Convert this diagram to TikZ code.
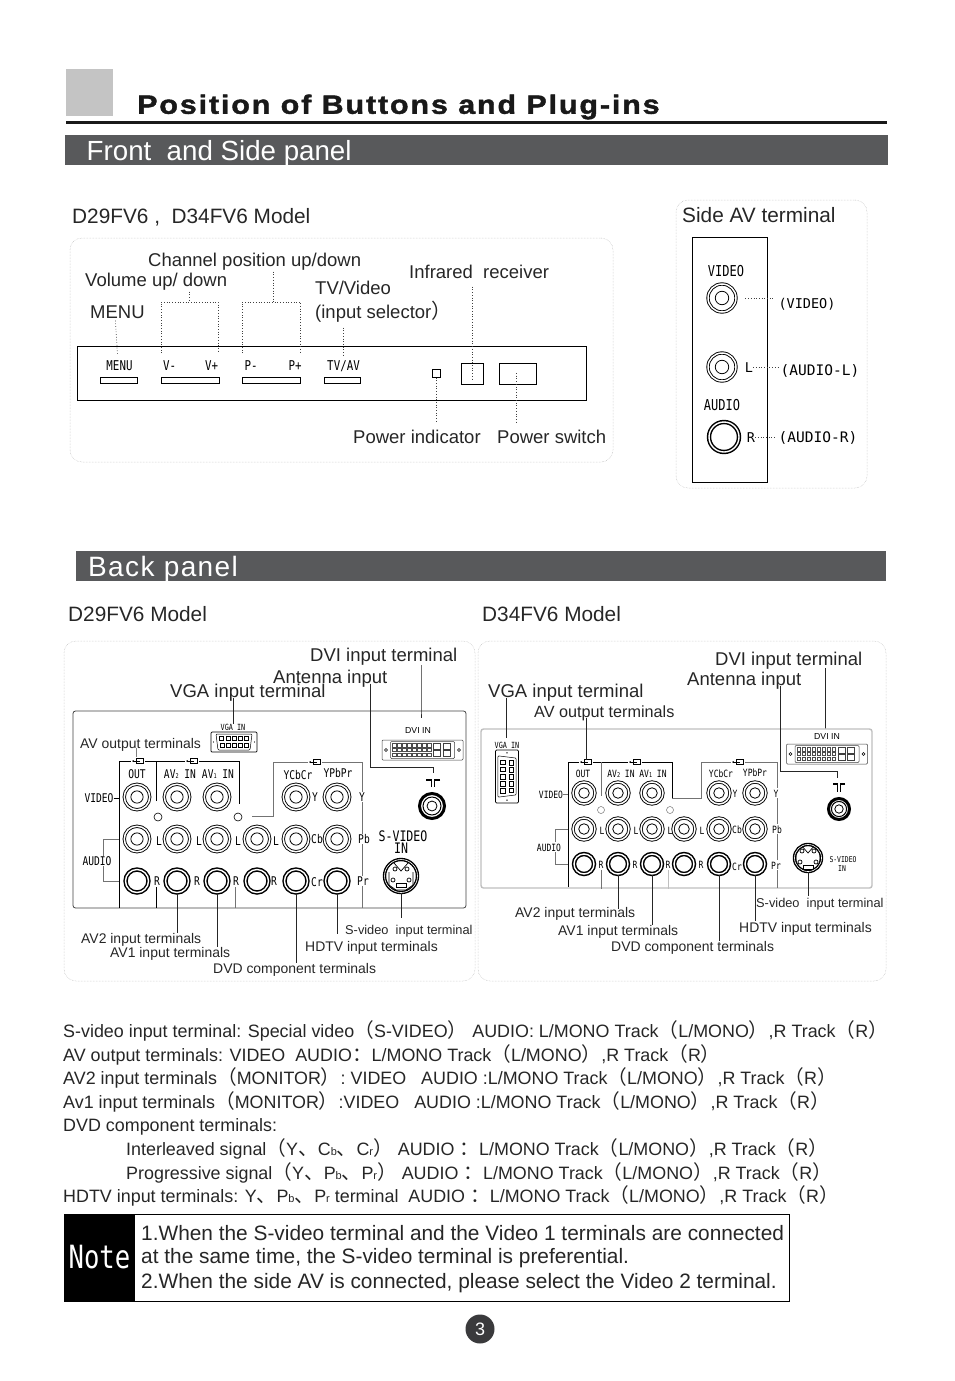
\documentclass[tikz,border=0pt]{standalone}
\usepackage{fontspec}
\setmainfont{Liberation Sans}
\newfontfamily\cjk[Scale=1.1]{Noto Sans CJK SC}
\newfontfamily\panelfont[FakeStretch=0.8]{DejaVu Sans Mono}
\newfontfamily\sidefont{DejaVu Sans Mono}
\newfontfamily\titlefont[LetterSpace=7,FakeStretch=1.15,FakeBold=1.5]{Liberation Sans Bold}
\newfontfamily\headfont[LetterSpace=5]{Liberation Sans}
\usepackage{tikz}
\usetikzlibrary{positioning,arrows.meta}
\definecolor{barcol}{HTML}{58595B}
\definecolor{boxcol}{HTML}{C4C4C4}
\definecolor{bulletcol}{HTML}{3A3A3C}
\newcommand{\zl}{{\cjk （}}
\newcommand{\zr}{{\cjk ）}}
\newcommand{\zd}{{\cjk 、}}
\newcommand{\zc}{{\cjk ：}}
\newcommand{\sml}[1]{{\fontsize{11}{11}\selectfont #1}}
\newcommand{\subn}[1]{{\fontsize{6.5}{6.5}\selectfont #1}}
\tikzset{
  vgaport/.pic={
    \draw[rounded corners=1pt,line width=.7pt] (-23,-10) rectangle (23,10);
    \draw[rounded corners=1pt,line width=.5pt] (-18,-8) -- (18,-8) -- (16,8) -- (-16,8) -- cycle;
    \foreach \i in {-2,...,2} {
      \draw[line width=.4pt] (\i*6.3-2,-6) rectangle +(4,4);
      \draw[line width=.4pt] (\i*6-2,1.5) rectangle +(4,4);
    }
    \fill (-20.5,0) circle (.7) (20.5,0) circle (.7);
  },
  dviport/.pic={
    \draw[rounded corners=1pt,line width=.5pt,draw=black!75] (-40.5,-10) rectangle (40.5,10);
    \draw[rounded corners=1pt,line width=.5pt,draw=black!75] (-32,-8.5) rectangle (32,8.5);
    \draw[line width=.4pt] (-36.5,0) circle (1.5) (36.5,0) circle (1.5);
    \foreach \i in {0,...,7} \foreach \j in {0,1,2}
      \draw[line width=.25pt,draw=black!70] (-30+\i*5,-6.5+\j*4.6) rectangle +(3.6,3.4);
    \foreach \i in {0,1} \foreach \j in {0,1}
      \draw[line width=.4pt,draw=black!75] (11+\i*9.5,-6.5+\j*7) rectangle +(7,6);
  }
}
\begin{document}
\begin{tikzpicture}[x=1pt,y=-1pt,
    lab/.style={inner sep=0, anchor=west, text height=13pt, text depth=0pt,
                font=\fontsize{18.5}{20}\selectfont, text=black!85},
    sublab/.style={lab, text height=10pt, font=\fontsize{13.95}{15}\selectfont},
    bigtext/.style={lab, text height=14.5pt, font=\fontsize{20.8}{22}\selectfont},
    notetext/.style={lab, text height=14.5pt, font=\fontsize{20.85}{22}\selectfont},
    tag/.style={inner sep=0, text height=8.5pt, text depth=0pt,
                font=\panelfont\fontsize{12}{12}\selectfont},
    fronttag/.style={tag, text height=9.5pt, font=\panelfont\fontsize{13.5}{14}\selectfont},
    sidetag/.style={tag, text height=10pt, font=\sidefont\fontsize{13.5}{14}\selectfont},
    tinytag/.style={tag, text height=6pt, font=\panelfont\fontsize{8}{9}\selectfont},
    bodyline/.style={lab, font=\fontsize{17.9}{20}\selectfont},
    bar/.style={fill=barcol, inner sep=0, minimum height=30pt},
    shell/.style={draw=gray!55, densely dotted, line width=.5pt, rounded corners=12pt,
                  inner sep=0},
    panel/.style={draw=black!75, line width=.8pt, rounded corners=2.5pt, inner sep=0},
    plainbox/.style={draw, line width=.8pt, inner sep=0},
    rail/.style={line width=.9pt},
    faint/.style={line width=.7pt, draw=black!55},
    leader/.style={dotted, line width=.7pt, draw=black!75},
    pointer/.style={line width=.7pt, draw=black!85},
    rca/.style={circle, draw, double, double distance=1.5pt, line width=.9pt, inner sep=0,
                minimum size=#1,
                path picture={\draw[line width=.8pt] (path picture bounding box.center) circle (#1*.24);}},
    rcb/.style={circle, draw, double, double distance=1.4pt, line width=1.5pt, inner sep=0,
                minimum size=#1},
    ant/.style={circle, draw, line width=3pt, inner sep=0, minimum size=#1,
                path picture={
                  \draw[line width=1pt] (path picture bounding box.center) circle (#1*.36);
                  \draw[line width=.8pt] (path picture bounding box.center) circle (#1*.2);}},
    svid/.style={circle, draw, double, double distance=.6pt, line width=1.4pt, inner sep=0,
                 minimum size=33pt*#1,
                 path picture={\begin{scope}[shift={(path picture bounding box.center)},scale=#1]
                   \foreach \a/\b in {-6/-7,6/-7,-8/4,8/4}
                     \draw[line width=.7pt] (\a,\b) circle (2);
                   \draw[line width=.7pt] (-7,-13) -- (0,-5) -- (7,-13);
                   \draw[line width=.7pt] (-5,7) rectangle (5,11);
                   \draw[line width=.7pt] (-12,-4) -- (-12,9) -- (-5,14) -- (5,14) -- (12,9) -- (12,-4);
                 \end{scope}}},
    plug/.style={inner sep=0, minimum width=14pt, minimum height=7pt,
                 path picture={\begin{scope}[shift={(path picture bounding box.center)}]
                   \draw[line width=.6pt] (-2,-2.5) rectangle (5,2.5);
                   \draw[-{Stealth[length=2pt,width=2pt]},line width=.5pt] (1.5,0) -- (-6,0);
                 \end{scope}}},
    >={Stealth[length=2.5mm]}]
  \useasboundingbox (0,0) rectangle (954,1381);

  % title block
  \node[fill=boxcol, inner sep=0, minimum width=47pt, minimum height=47pt] (corner) at (89.5,92.5) {};
  \node[inner sep=0, anchor=west, font=\titlefont\fontsize{26.5}{28}\selectfont, text=black!90] (title) at (137,107) {Position of Buttons and Plug-ins};
  \node[fill=black!90, inner sep=0, minimum width=821pt, minimum height=2.6pt] (titlerule) at (476.5,122.7) {};
  \node[bar, minimum width=823pt] (barfront) at (476.5,150) {};
  \node[lab, text height=20pt, font=\fontsize{27.7}{29}\selectfont, text=white] (barfronttext) at (86.5,150) {Front \ and Side panel};
  \node[bar, minimum width=810pt] (barback) at (481,566) {};
  \node[lab, text height=20pt, font=\headfont\fontsize{28}{30}\selectfont, text=white] (barbacktext) at (88,566) {Back panel};

  % front panel
  \node[bigtext] (modelfront) at (72,216) {D29FV6 , \ D34FV6 Model};
  \node[shell, minimum width=543pt, minimum height=224pt] (shellfront) at (341.5,350) {};
  \node[plainbox, minimum width=509.5pt, minimum height=54pt] (panelfront) at (332,373.5) {};
  \foreach \n/\x/\w in {m/118.8/36.5,v/190/58,p/271/58,t/342/36}
    \node[plainbox, minimum width=\w pt, minimum height=5.5pt] (btn\n) at (\x,380.5) {};
  \foreach \n/\x/\s in {m/119.5/MENU,vm/169.5/V-,vp/211.5/V+,pm/251/P-,pp/295/P+,t/343.5/TV{/}AV}
    \node[fronttag] (btntag\n) at (\x,366) {\s};
  \node[plainbox, minimum width=8pt, minimum height=7.5pt] (powled) at (436,373.5) {};
  \node[plainbox, minimum width=22.5pt, minimum height=21pt] (irbox) at (472.5,373.5) {};
  \node[plainbox, minimum width=36.5pt, minimum height=21pt] (swbox) at (518,373.5) {};
  \node[lab] (lblchan) at (148,260) {Channel position up/down};
  \node[lab] (lblvol) at (85,280) {Volume up/ down};
  \node[lab] (lblmenu) at (90,312) {MENU};
  \node[lab] (lbltv) at (315,288) {TV/Video};
  \node[lab] (lblsel) at (315,312) {(input selector\zr};
  \node[lab] (lblir) at (409,272) {Infrared \ receiver};
  \node[lab] (lblled) at (353,437) {Power indicator};
  \node[lab] (lblsw) at (497,437) {Power switch};
  \coordinate (voltop) at (189,302);
  \coordinate (volL) at (161,353);
  \coordinate (volR) at (218,353);
  \coordinate (chantop) at (273.5,302);
  \coordinate (chanL) at (242,353);
  \coordinate (chanR) at (300.5,353);
  \coordinate (swmid) at (516.5,373);
  \draw[leader] (volL) |- (voltop) -| (volR);
  \draw[leader] ([yshift=-5pt]lblvol.south -| voltop) -- (voltop);
  \draw[leader] (chanL) |- (chantop) -| (chanR);
  \draw[leader] ([yshift=-5pt]lblchan.south -| chantop) -- (chantop);
  \draw[leader] ([xshift=-2pt,yshift=-2pt]lblmenu.south) -- ([xshift=-2pt,yshift=6pt]btntagm.north);
  \draw[leader] ([yshift=-9pt]lblsel.south -| btntagt) -- ([yshift=5pt]btntagt.north);
  \draw[leader] ([yshift=-8pt]lblir.south -| irbox) -- ([yshift=-7pt]irbox.center);
  \draw[leader] (powled.south) -- ([yshift=8pt]lblled.north -| powled);
  \draw[leader] (swmid) -- ([yshift=8pt]lblsw.north -| swmid);

  % side AV
  \node[bigtext] (modelside) at (682,215) {Side AV terminal};
  \node[shell, minimum width=191pt, minimum height=288pt] (shellside) at (771.5,344) {};
  \node[plainbox, minimum width=75pt, minimum height=245pt] (panelside) at (729.5,359.5) {};
  \node[rca=28pt] (sidevid) at (722,298) {};
  \node[rca=28pt] (sideaudl) at (722,367) {};
  \node[rcb=30pt] (sideaudr) at (724,437) {};
  \foreach \n/\x/\y/\s in {a/726/271/VIDEO,b/722/405/AUDIO}
    \node[sidetag, font=\panelfont\fontsize{15}{16}\selectfont] (sidetag\n) at (\x,\y) {\s};
  \node[sidetag] (sidel) at (749,367) {L};
  \node[sidetag] (sider) at (751,437) {R};
  \node[sidetag] (sideoutv) at (807,303) {(VIDEO)};
  \node[sidetag, font=\sidefont\fontsize{14.5}{15}\selectfont] (sideoutl) at (820,370) {(AUDIO-L)};
  \node[sidetag, font=\sidefont\fontsize{14.5}{15}\selectfont] (sideoutr) at (818,437) {(AUDIO-R)};
  \draw[leader] ([xshift=9pt]sidevid.east) -- ([xshift=-4pt]sideoutv.west |- sidevid);
  \draw[leader] (sidel.east |- sideaudl) -- ([xshift=-2pt]sideoutl.west |- sideaudl);
  \draw[leader] (sider.east |- sideaudr) -- ([xshift=-2pt]sideoutr.west |- sideaudr);

  % back panel, D29FV6
  \node[bigtext] (modelA) at (68,614) {D29FV6 Model};
  \node[shell, minimum width=411pt, minimum height=340pt] (shellA) at (269.5,811) {};
  \node[panel, minimum width=393pt, minimum height=197pt] (panelA) at (269.5,809.5) {};
  \foreach \n/\x in {a/137,b/177,c/217,f/296,g/337} \node[rca=25.5pt] (vidA\n) at (\x,797) {};
  \foreach \n/\x in {a/137,b/177,c/217,d/257,f/296,g/337} \node[rca=25.5pt] (audlA\n) at (\x,839) {};
  \foreach \n/\x in {a/137,b/177,c/217,d/257,f/296,g/337} \node[rcb=23pt] (audrA\n) at (\x,881) {};
  \node[ant=25pt] (antjackA) at (432,806) {};
  \node[svid=1] (svjackA) at (401,876) {};
  \foreach \n/\x/\y in {a/158/817,b/238/817}
    \node[circle, draw, line width=.6pt, inner sep=0, minimum size=8pt] (holeA\n) at (\x,\y) {};
  \foreach \n/\x/\y/\s in {out/137/774/OUT,avb/180/774/AV\subn{2} IN,ava/218/774/AV\subn{1} IN,ycb/298/775/YCbCr,ypb/338/773/YPbPr,
      la/159/841/L,lb/199/841/L,lc/238/841/L,ld/276/841/L,ra/157/881/R,rb/197/881/R,rc/236/881/R,rd/274/881/R,
      yy/315/797/Y,cb/317/839/Cb,cr/317/882/Cr,yr/362/797/Y,pb/364/839/Pb,pr/363/881/Pr,
      vid/99/798/VIDEO,aud/97/861/AUDIO}
    \node[tag] (tagA\n) at (\x,\y) {\s};
  \node[fronttag, font=\panelfont\fontsize{14.5}{15}\selectfont] (tagAsv) at (403,837) {S-VIDEO};
  \node[fronttag, font=\panelfont\fontsize{14.5}{15}\selectfont] (tagAin) at (401,849) {IN};
  \node[plug] (plugAa) at (138,761) {};
  \node[plug] (plugAb) at (192,761) {};
  \node[plug] (plugAc) at (315,762) {};
  \coordinate (railAa) at (119,908);
  \coordinate (railAb) at (156,801);
  \coordinate (railAc) at (239,804);
  \coordinate (railAd) at (252,816);
  \coordinate (railAe) at (273,762);
  \coordinate (railAf) at (362,908);
  \coordinate (stubAa) at (156,887);
  \coordinate (stubAb) at (235,887);
  \draw[rail] (railAa) |- (plugAa.west);
  \draw[rail] (railAb) |- (plugAa.east);
  \draw[rail] (plugAb.west) -| (railAb);
  \draw[rail] (plugAb.east) -| (railAc);
  \draw[faint] (railAd) -| (railAe) -- (plugAc.west);
  \draw[faint] (plugAc.east) -| ([yshift=1pt]tagAyr.north -| railAf);
  \draw[faint] ([yshift=-1pt]tagAyr.south -| railAf) -- ([yshift=1pt]tagApb.north -| railAf);
  \draw[faint] ([yshift=-1pt]tagApb.south -| railAf) -- ([yshift=1pt]tagApr.north -| railAf);
  \draw[faint] ([yshift=-1pt]tagApr.south -| railAf) -- (railAf);
  \draw[rail] (stubAa) -- (stubAa |- panelA.south);
  \draw[faint] (stubAb) -- (stubAb |- panelA.south);
  \draw[rail] (tagAvid.east) -- (tagAvid.east -| railAa);
  \draw[faint] (railAa |- audlAa) -- +(-16,0) -- ([yshift=1pt]tagAaud.north -| 103,0);
  \draw[faint] (railAa |- audrAa) -- +(-16,0) -- ([yshift=-1pt]tagAaud.south -| 103,0);
  \pic at (234,742) {vgaport};
  \pic at (422.5,750) {dviport};
  \node[tag, font=\panelfont\fontsize{8.5}{9}\selectfont, text height=6.5pt] (vgatagA) at (233,727) {VGA IN};
  \node[inner sep=0, text height=6.5pt, font=\fontsize{8.7}{9}\selectfont] (dvitagA) at (418,730) {DVI IN};
  \node[sublab] (lblavoutA) at (80,743) {AV output terminals};
  \node[lab] (lbldviA) at (310,655) {DVI input terminal};
  \node[lab] (lblantA) at (273,677) {Antenna input};
  \node[lab] (lblvgaA) at (170,691) {VGA input terminal};
  \node[sublab, font=\fontsize{12.8}{14}\selectfont] (lblsvA) at (345,929) {S-video \ input terminal};
  \node[sublab] (lblhdtvA) at (305,946) {HDTV input terminals};
  \node[sublab] (lblavbA) at (81,938) {AV2 input terminals};
  \node[sublab] (lblavaA) at (110,952) {AV1 input terminals};
  \node[sublab] (lbldvdA) at (213,968) {DVD component terminals};
  \coordinate (antelbA) at (370,767);
  \coordinate (dvitopA) at (421,665);
  \coordinate (antsymA) at (433,780);
  \draw[pointer] (dvitopA) -- (dvitopA |- panelA.north) -- +(0,7);
  \draw[pointer] (lblantA.south -| antelbA) -- (antelbA) -| ([yshift=7pt]antsymA);
  \draw[line width=1.3pt] ([xshift=-7pt]antsymA) -- ([xshift=-1.6pt]antsymA) -- +(0,7);
  \draw[line width=1.3pt] ([xshift=7pt]antsymA) -- ([xshift=1.6pt]antsymA) -- +(0,7);
  \draw[pointer] (lblvgaA.south -| vgatagA) -- (vgatagA.north);
  \draw[pointer, draw=black!50] ([xshift=-2pt]lblavoutA.south -| plugAa) -- ([xshift=-2pt]plugAa.north);
  \draw[pointer] (audrAb.south) -- (lblavbA.north -| audrAb);
  \draw[pointer] (audrAc.south) -- (lblavaA.north -| audrAc);
  \draw[pointer] (audrAf.south) -- (lbldvdA.north -| audrAf);
  \draw[pointer] (audrAg.south) -- ([yshift=7pt]lblhdtvA.north -| audrAg);
  \draw[pointer] (svjackA.south) -- ([yshift=6pt]lblsvA.north -| svjackA);

  % back panel, D34FV6
  \node[bigtext] (modelB) at (482,614) {D34FV6 Model};
  \node[shell, minimum width=408pt, minimum height=340pt] (shellB) at (682,811) {};
  \node[panel, draw=black!25, line width=1.4pt, minimum width=391pt, minimum height=159pt] (panelB) at (676.5,808.5) {};
  \foreach \n/\x in {a/584,b/618,c/652,f/719,g/755} \node[rca=22pt] (vidB\n) at (\x,793) {};
  \foreach \n/\x in {a/584,b/618,c/652,d/684,f/719,g/755} \node[rca=22pt] (audlB\n) at (\x,829) {};
  \foreach \n/\x in {a/584,b/618,c/652,d/684,f/719,g/755} \node[rcb=20pt] (audrB\n) at (\x,864) {};
  \node[ant=21pt] (antjackB) at (839,809) {};
  \node[svid=0.82] (svjackB) at (808,858) {};
  \foreach \n/\x/\y in {a/601/810,b/670/810}
    \node[circle, draw=black!55, line width=.5pt, inner sep=0, minimum size=7pt] (holeB\n) at (\x,\y) {};
  \foreach \n/\x/\y/\s in {out/583/773/OUT,avb/621/773/AV\subn{2} IN,ava/653/773/AV\subn{1} IN,ycb/721/773/YCbCr,ypb/755/772/YPbPr,
      la/602/830/L,lb/636/830/L,lc/670/830/L,ld/702/830/L,ra/601/864/R,rb/635/864/R,rc/668/864/R,rd/701/864/R,
      yy/735/793/Y,cb/737/829/Cb,cr/737/866/Cr,yr/776/793/Y,pb/777/829/Pb,pr/776/865/Pr,
      vid/551/794/VIDEO,aud/549/847/AUDIO}
    \node[tag, font=\panelfont\fontsize{10}{11}\selectfont] (tagB\n) at (\x,\y) {\s};
  \node[tinytag] (tagBsv) at (843,859) {S-VIDEO};
  \node[tinytag] (tagBin) at (842,868) {IN};
  \node[plug, minimum width=13pt] (plugBa) at (586,762) {};
  \node[plug, minimum width=13pt] (plugBb) at (635,762) {};
  \node[plug, minimum width=13pt] (plugBc) at (738,762) {};
  \coordinate (railBa) at (568,887);
  \coordinate (railBb) at (601,796);
  \coordinate (railBc) at (672,798);
  \coordinate (railBd) at (701,762);
  \coordinate (railBf) at (777,888);
  \coordinate (stubBa) at (601,870);
  \coordinate (stubBb) at (668,870);
  \draw[rail] (railBa) |- (plugBa.west);
  \draw[rail] (plugBa.east) -- (plugBb.west);
  \draw[rail] (plugBb.east) -| (railBc);
  \draw[faint] (railBb) -- (railBb |- plugBa);
  \draw[faint] (railBc) -| (railBd) -- (plugBc.west);
  \draw[faint] (plugBc.east) -| ([yshift=1pt]tagByr.north -| railBf);
  \draw[faint] ([yshift=-1pt]tagByr.south -| railBf) -- ([yshift=1pt]tagBpb.north -| railBf);
  \draw[faint] ([yshift=-1pt]tagBpb.south -| railBf) -- ([yshift=1pt]tagBpr.north -| railBf);
  \draw[faint] ([yshift=-1pt]tagBpr.south -| railBf) -- (railBf);
  \draw[faint] (stubBa) -- (stubBa |- panelB.south);
  \draw[faint, draw=black!25] (stubBb) -- (stubBb |- panelB.south);
  \draw[faint] (tagBvid.east) -- (tagBvid.east -| railBa);
  \draw[faint] (railBa |- audlBa) -- +(-13,0) -- ([yshift=1pt]tagBaud.north -| 555,0);
  \draw[faint] (railBa |- audrBa) -- +(-13,0) -- ([yshift=-1pt]tagBaud.south -| 555,0);
  \pic[rotate=90,scale=1.15] at (507,776.5) {vgaport};
  \pic at (827,754) {dviport};
  \node[tag, font=\panelfont\fontsize{8.5}{9}\selectfont, text height=6.5pt] (vgatagB) at (507,745) {VGA IN};
  \node[inner sep=0, text height=6.5pt, font=\fontsize{8.7}{9}\selectfont] (dvitagB) at (827,736) {DVI IN};
  \node[lab] (lbldviB) at (715,659) {DVI input terminal};
  \node[lab] (lblantB) at (687,679) {Antenna input};
  \node[lab] (lblvgaB) at (488,691) {VGA input terminal};
  \node[lab, text height=11.5pt, font=\fontsize{16.2}{18}\selectfont] (lblavoutB) at (534,712) {AV output terminals};
  \node[sublab, font=\fontsize{12.8}{14}\selectfont] (lblsvB) at (756,902) {S-video \ input terminal};
  \node[sublab] (lblhdtvB) at (739,927) {HDTV input terminals};
  \node[sublab] (lblavbB) at (515,912) {AV2 input terminals};
  \node[sublab] (lblavaB) at (558,930) {AV1 input terminals};
  \node[sublab] (lbldvdB) at (611,946) {DVD component terminals};
  \coordinate (antelbB) at (780,771);
  \coordinate (dvitopB) at (825,668);
  \coordinate (antsymB) at (839,784);
  \coordinate (vgalineB) at (506,738);
  \draw[pointer] (dvitopB) -- (dvitopB |- panelB.north) -- +(0,-6);
  \draw[pointer] (lblantB.south -| antelbB) -- (antelbB) -| ([xshift=-2pt,yshift=6pt]antsymB);
  \draw[line width=1.3pt] ([xshift=-6pt]antsymB) -- ([xshift=-1.4pt]antsymB) -- +(0,8);
  \draw[line width=1.3pt] ([xshift=6pt]antsymB) -- ([xshift=1.4pt]antsymB) -- +(0,8);
  \draw[pointer] (lblvgaB.south -| vgalineB) -- (vgalineB);
  \draw[pointer] (lblavoutB.south -| plugBa) -- ([yshift=-2pt]plugBa.north);
  \draw[pointer] (audrBb.south) -- ([yshift=-2pt]lblavbB.north -| audrBb);
  \draw[pointer] (audrBc.south) -- (lblavaB.north -| audrBc);
  \draw[pointer] (audrBf.south) -- (lbldvdB.north -| audrBf);
  \draw[pointer] (audrBg.south) -- ([yshift=1pt]lblhdtvB.north -| audrBg);
  \draw[pointer] (svjackB.south) -- ([yshift=1pt]lblsvB.north -| svjackB);

  % description lines
  \node[bodyline] (txta) at (63,1031) {S-video input terminal: Special video\zl S-VIDEO\zr\ AUDIO: L/MONO Track\zl L/MONO\zr,R Track\zl R\zr};
  \node[bodyline] (txtb) at (63,1055) {AV output terminals: VIDEO \ AUDIO{\cjk ：}L/MONO Track\zl L/MONO\zr,R Track\zl R\zr};
  \node[bodyline] (txtc) at (63,1078) {AV2 input terminals\zl MONITOR\zr: VIDEO \ \ AUDIO :L/MONO Track\zl L/MONO\zr,R Track\zl R\zr};
  \node[bodyline] (txtd) at (63,1102) {Av1 input terminals\zl MONITOR\zr:VIDEO \ \ AUDIO :L/MONO Track\zl L/MONO\zr,R Track\zl R\zr};
  \node[bodyline] (txte) at (63,1125) {DVD component terminals:};
  \node[bodyline] (txtf) at (126,1149) {Interleaved signal\zl Y\zd C\sml{b}\zd C\sml{r}\zr\ AUDIO \zc L/MONO Track\zl L/MONO\zr,R Track\zl R\zr};
  \node[bodyline] (txtg) at (126,1173) {Progressive signal\zl Y\zd P\sml{b}\zd P\sml{r}\zr\ AUDIO \zc L/MONO Track\zl L/MONO\zr,R Track\zl R\zr};
  \node[bodyline] (txth) at (63,1196) {HDTV input terminals: Y\zd P\sml{b}\zd P\sml{r} terminal \ AUDIO \zc L/MONO Track\zl L/MONO\zr,R Track\zl R\zr};

  % note box
  \node[plainbox, minimum width=725pt, minimum height=87pt] (notebox) at (426.5,1257.5) {};
  \node[fill=black, inner sep=0, minimum width=71pt, minimum height=87pt, text=white,
        font=\panelfont\fontsize{32}{34}\selectfont] (notetag) at (99.5,1257.5) {Note};
  \node[notetext] (notea) at (141,1233) {1.When the S-video terminal and the Video 1 terminals are connected};
  \node[notetext] (noteb) at (141,1256) {at the same time, the S-video terminal is preferential.};
  \node[notetext] (notec) at (141,1281) {2.When the side AV is connected, please select the Video 2 terminal.};
  \node[circle, fill=bulletcol, inner sep=0, minimum size=29pt, text=white,
        font=\fontsize{18}{20}\selectfont] (pagenum) at (480,1329) {3};
\end{tikzpicture}
\end{document}
